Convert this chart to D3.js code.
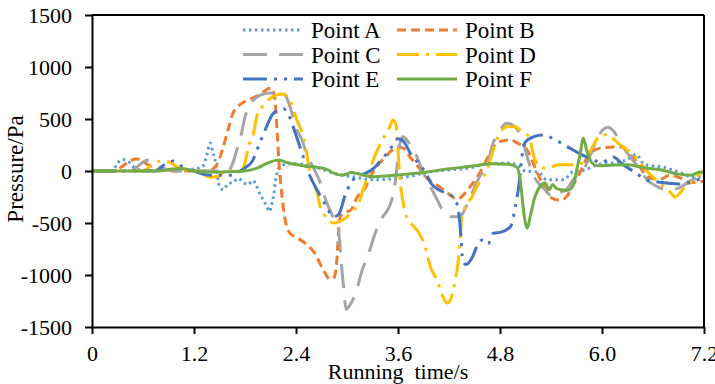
<!DOCTYPE html>
<html><head><meta charset="utf-8">
<script src="https://cdn.jsdelivr.net/npm/d3@7"></script>
<style>html,body{margin:0;padding:0;background:#fff;}svg{display:block;}</style>
</head><body><svg id="c" width="715" height="384"></svg>
<script>
const xTicks = [0, 1.2, 2.4, 3.6, 4.8, 6.0, 7.2];
const xTickLabels = ["0", "1.2", "2.4", "3.6", "4.8", "6.0", "7.2"];
const yTicks = [-1500, -1000, -500, 0, 500, 1000, 1500];
const yTickLabels = ["-1500", "-1000", "-500", "0", "500", "1000", "1500"];
const seriesNames = ["Point A", "Point B", "Point C", "Point D", "Point E", "Point F"];

const pointA = [[0,0],[0.2,0],[0.25,10],[0.3,75],[0.36,110],[0.43,90],[0.5,30],[0.58,10],[0.7,5],[0.9,10],[1.1,10],[1.2,20],[1.3,40],[1.35,150],[1.39,270],[1.42,190],[1.46,60],[1.5,-150],[1.55,-180],[1.6,-120],[1.66,-110],[1.72,-70],[1.78,-110],[1.84,-130],[1.89,-90],[1.94,-150],[1.98,-230],[2.02,-280],[2.06,-350],[2.09,-390],[2.11,-330],[2.14,-220],[2.16,-90],[2.2,30],[2.28,65],[2.4,70],[2.5,60],[2.62,40],[2.8,-10],[2.95,-40],[3.1,-60],[3.3,-85],[3.55,-75],[3.75,-50],[3.95,-10],[4.2,10],[4.45,30],[4.65,70],[4.9,75],[5.0,60],[5.1,0],[5.25,-10],[5.35,-85],[5.55,-85],[5.65,-10],[5.8,10],[5.95,60],[6.15,80],[6.3,110],[6.4,160],[6.5,60],[6.7,40],[6.9,-10],[7.05,-55],[7.2,-60]];
const pointB = [[0,0],[0.25,0],[0.35,40],[0.45,100],[0.53,115],[0.6,90],[0.7,40],[0.8,10],[1.0,0],[1.35,0],[1.45,40],[1.5,120],[1.54,220],[1.6,395],[1.66,560],[1.76,650],[1.86,690],[1.98,740],[2.07,790],[2.11,800],[2.15,700],[2.18,350],[2.2,80],[2.23,-200],[2.27,-460],[2.33,-600],[2.41,-640],[2.53,-710],[2.62,-790],[2.72,-950],[2.8,-1040],[2.85,-1020],[2.88,-860],[2.9,-600],[2.92,-440],[2.98,-400],[3.05,-370],[3.12,-250],[3.2,-180],[3.32,10],[3.44,125],[3.6,230],[3.66,220],[3.74,135],[3.84,40],[3.94,-70],[4.06,-135],[4.18,-210],[4.3,-270],[4.38,-220],[4.45,-150],[4.53,-60],[4.6,40],[4.68,170],[4.76,270],[4.92,300],[5.0,270],[5.12,200],[5.19,75],[5.25,-40],[5.31,-135],[5.39,-250],[5.5,-280],[5.58,-250],[5.65,-150],[5.75,0],[5.84,150],[5.98,220],[6.13,230],[6.25,230],[6.31,170],[6.4,100],[6.47,10],[6.55,-60],[6.68,-80],[6.8,-40],[6.9,-60],[7.05,-110],[7.2,-100]];
const pointC = [[0,0],[0.45,0],[0.53,40],[0.6,85],[0.66,105],[0.74,75],[0.8,40],[0.9,10],[1.0,0],[1.6,0],[1.66,85],[1.71,220],[1.75,330],[1.8,520],[1.86,635],[1.98,730],[2.1,750],[2.2,750],[2.27,730],[2.33,615],[2.41,395],[2.47,300],[2.53,150],[2.6,40],[2.68,-100],[2.76,-300],[2.84,-450],[2.9,-570],[2.93,-850],[2.96,-1120],[2.99,-1330],[3.04,-1280],[3.1,-1180],[3.18,-950],[3.26,-780],[3.34,-580],[3.42,-440],[3.5,-340],[3.56,-150],[3.59,50],[3.62,250],[3.66,330],[3.72,280],[3.82,140],[3.9,-20],[3.98,-150],[4.07,-290],[4.14,-400],[4.22,-440],[4.32,-440],[4.45,-250],[4.56,-55],[4.64,40],[4.72,270],[4.8,395],[4.88,460],[4.95,440],[5.05,330],[5.12,135],[5.18,-20],[5.25,-115],[5.33,-180],[5.42,-250],[5.5,-210],[5.58,-180],[5.66,-85],[5.74,-10],[5.8,40],[5.87,170],[5.98,365],[6.07,420],[6.14,380],[6.22,270],[6.3,170],[6.38,85],[6.45,10],[6.53,-85],[6.65,-150],[6.78,-180],[6.9,-165],[7.02,-105],[7.14,-55],[7.2,-40]];
const pointD = [[0,0],[0.6,0],[0.68,40],[0.76,85],[0.84,100],[0.92,80],[1.0,40],[1.1,10],[1.2,0],[1.3,-30],[1.4,-60],[1.48,-50],[1.55,-10],[1.65,0],[1.76,0],[1.8,80],[1.84,230],[1.9,365],[1.95,560],[2.0,615],[2.07,680],[2.17,730],[2.25,740],[2.33,680],[2.41,490],[2.48,345],[2.52,200],[2.56,0],[2.6,-115],[2.65,-210],[2.68,-330],[2.74,-430],[2.78,-470],[2.84,-500],[2.9,-490],[3.0,-440],[3.06,-380],[3.12,-345],[3.19,-180],[3.28,40],[3.34,170],[3.42,300],[3.5,420],[3.54,490],[3.58,430],[3.6,200],[3.62,-60],[3.65,-250],[3.7,-440],[3.74,-490],[3.86,-615],[3.92,-730],[3.98,-920],[4.06,-1050],[4.12,-1190],[4.18,-1270],[4.23,-1210],[4.27,-1065],[4.3,-920],[4.33,-665],[4.35,-450],[4.39,-345],[4.47,-250],[4.55,-115],[4.65,10],[4.72,200],[4.8,365],[4.88,425],[4.98,425],[5.06,375],[5.14,330],[5.2,135],[5.28,30],[5.38,30],[5.48,60],[5.6,60],[5.7,60],[5.8,100],[5.9,250],[5.98,345],[6.07,350],[6.17,280],[6.3,200],[6.38,150],[6.47,60],[6.55,-20],[6.68,-115],[6.8,-200],[6.86,-250],[6.96,-170],[7.1,-70],[7.2,10]];
const pointE = [[0,0],[0.75,0],[0.85,60],[0.95,95],[1.03,60],[1.1,20],[1.2,0],[1.3,-30],[1.4,-40],[1.66,-40],[1.72,-10],[1.8,30],[1.89,100],[1.95,220],[2.05,420],[2.12,540],[2.2,590],[2.25,600],[2.3,560],[2.41,320],[2.48,150],[2.54,0],[2.66,-200],[2.76,-345],[2.84,-440],[2.9,-420],[2.98,-230],[3.1,-60],[3.16,-40],[3.32,30],[3.4,105],[3.5,200],[3.6,310],[3.66,290],[3.76,150],[3.84,75],[3.92,-10],[3.99,-120],[4.1,-190],[4.22,-230],[4.3,-330],[4.34,-620],[4.36,-850],[4.4,-900],[4.48,-820],[4.54,-700],[4.6,-660],[4.66,-700],[4.72,-600],[4.8,-590],[4.92,-540],[4.98,-345],[5.02,-150],[5.06,150],[5.1,280],[5.2,330],[5.3,345],[5.45,300],[5.6,230],[5.75,160],[5.9,110],[5.98,80],[6.05,100],[6.13,135],[6.25,60],[6.4,-20],[6.52,-85],[6.7,-110],[6.9,-125],[7.05,-110],[7.2,-50]];
const pointF = [[0,0],[0.8,0],[0.95,20],[1.05,25],[1.2,0],[1.35,-10],[1.5,-10],[1.65,-5],[1.8,0],[1.95,30],[2.05,70],[2.15,100],[2.2,105],[2.3,80],[2.45,55],[2.6,40],[2.75,20],[2.87,-30],[2.95,-40],[3.05,-15],[3.15,-30],[3.3,-55],[3.5,-45],[3.7,-30],[3.9,-15],[4.1,10],[4.3,30],[4.5,50],[4.7,70],[4.9,65],[5.0,35],[5.04,-100],[5.08,-400],[5.12,-550],[5.16,-420],[5.2,-280],[5.27,-150],[5.33,-115],[5.38,-180],[5.42,-130],[5.46,-165],[5.52,-180],[5.6,-185],[5.66,-140],[5.7,0],[5.74,150],[5.78,315],[5.82,200],[5.88,80],[5.95,50],[6.1,55],[6.3,60],[6.5,30],[6.7,10],[6.9,-30],[7.05,-40],[7.15,-10],[7.2,-20]];

const seriesData = [pointA, pointB, pointC, pointD, pointE, pointF];
const colors = ["#5B9BD5", "#ED7D31", "#A5A5A5", "#FFC000", "#4472C4", "#70AD47"];
const dashes = ["2.5,3.5", "9,5", "24,12", "22,7,3,7", "24,7,3,7,3,7", null];

const svg = d3.select("#c");
const L = 92, R = 704, T = 15, B = 327;
const x = d3.scaleLinear().domain([0, 7.2]).range([L, R]);
const y = d3.scaleLinear().domain([-1500, 1500]).range([B, T]);
const font = "'Liberation Serif','Times New Roman',serif";

const line = d3.line().x(d => x(d[0])).y(d => y(d[1])).curve(d3.curveMonotoneX);

const g = svg.append("g");
seriesData.forEach((s, i) => {
  g.append("path").datum(s).attr("d", line).attr("fill", "none")
    .attr("stroke", colors[i]).attr("stroke-width", 3)
    .attr("stroke-dasharray", dashes[i]).attr("stroke-linejoin", "round");
});

// frame
svg.append("line").attr("x1", L).attr("x2", R).attr("y1", T).attr("y2", T).attr("stroke", "#000").attr("stroke-width", 2);
svg.append("line").attr("x1", R).attr("x2", R).attr("y1", T).attr("y2", B).attr("stroke", "#000").attr("stroke-width", 2);

const xAxis = svg.append("g").attr("transform", `translate(0,${B})`)
  .call(d3.axisBottom(x).tickValues(xTicks).tickFormat((d, i) => xTickLabels[i]).tickSize(7).tickSizeOuter(0));
const yAxis = svg.append("g").attr("transform", `translate(${L},0)`)
  .call(d3.axisLeft(y).tickValues(yTicks).tickFormat((d, i) => yTickLabels[i]).tickSize(7).tickSizeOuter(0));
[xAxis, yAxis].forEach(a => {
  a.select(".domain").attr("stroke", "#000").attr("stroke-width", 2);
  a.selectAll(".tick line").attr("stroke", "#000").attr("stroke-width", 2);
  a.selectAll("text").attr("font-family", font).attr("font-size", 22).attr("fill", "#000");
});
xAxis.selectAll("text").attr("dy", null).attr("y", 0).attr("transform", "translate(0,34)");
yAxis.selectAll("text").attr("x", -20).attr("dy", "0.33em");

svg.append("text").attr("x", 398).attr("y", 379).attr("text-anchor", "middle")
  .attr("font-family", font).attr("font-size", 22).text("Running\u00a0 time/s");
svg.append("text").attr("transform", "translate(23,169) rotate(-90)").attr("text-anchor", "middle")
  .attr("font-family", font).attr("font-size", 23).text("Pressure/Pa");

// legend
const legX = [243, 397], legY = [30, 54.5, 79];
seriesNames.forEach((n, i) => {
  const cx = legX[i % 2], cy = legY[Math.floor(i / 2)];
  svg.append("line").attr("x1", cx).attr("x2", cx + 60).attr("y1", cy).attr("y2", cy)
    .attr("stroke", colors[i]).attr("stroke-width", 3).attr("stroke-dasharray", dashes[i]);
  svg.append("text").attr("x", cx + 68).attr("y", cy).attr("dy", "0.35em")
    .attr("font-family", font).attr("font-size", 23).text(n);
});
</script></body></html>
